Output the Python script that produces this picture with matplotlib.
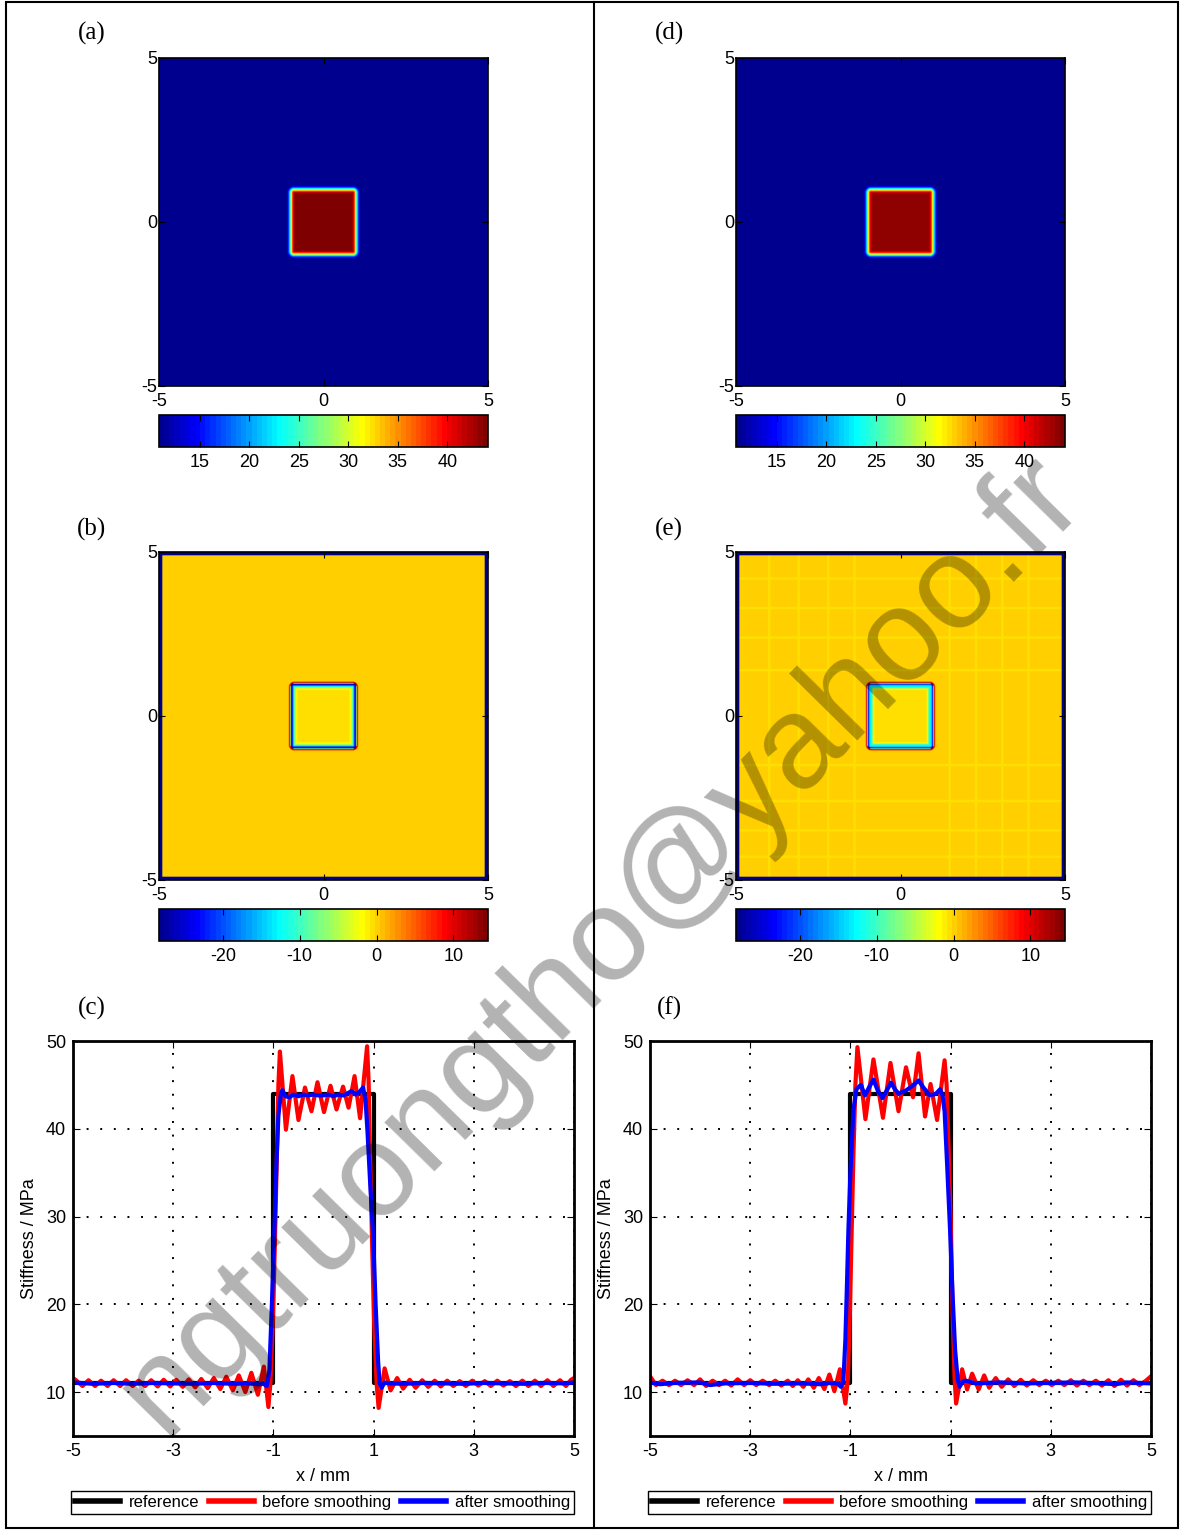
import numpy as np
import matplotlib
matplotlib.use('Agg')
import matplotlib.pyplot as plt
from matplotlib.colors import ListedColormap
from matplotlib.lines import Line2D
from matplotlib.patches import Rectangle

plt.rcParams['font.family'] = ['Liberation Sans', 'DejaVu Sans']
plt.rcParams['axes.unicode_minus'] = False

W, H = 1180, 1530

# ---- line profiles through y = 0, (x / mm, stiffness / MPa) ----
ref_x = [-5, -1, -1, 1, 1, 5]
ref_y = [11, 11, 44, 44, 11, 11]

c_red = [(-5.00, 11.6), (-4.94, 11.35), (-4.81, 10.7), (-4.69, 11.35), (-4.56, 10.7), (-4.44, 11.3),
         (-4.31, 10.7), (-4.19, 11.35), (-4.06, 10.7), (-3.94, 11.35), (-3.81, 10.7), (-3.69, 11.3),
         (-3.56, 10.7), (-3.44, 11.35), (-3.31, 10.65), (-3.19, 11.4), (-3.06, 10.65), (-2.94, 11.4),
         (-2.81, 10.6), (-2.69, 11.45), (-2.56, 10.55), (-2.44, 11.5), (-2.31, 10.45), (-2.19, 11.6),
         (-2.06, 10.35), (-1.94, 11.75), (-1.81, 10.2), (-1.69, 11.9), (-1.56, 10.0), (-1.44, 12.2),
         (-1.31, 9.7), (-1.19, 12.9), (-1.10, 8.3),
         (-1.06, 11.0), (-1.01, 18.0), (-0.97, 27.0), (-0.93, 37.0), (-0.90, 45.0), (-0.87, 48.8),
         (-0.75, 39.9), (-0.62, 46.0), (-0.50, 41.0), (-0.37, 44.7), (-0.24, 42.0), (-0.12, 45.3),
         (0.01, 41.9), (0.14, 44.9), (0.26, 42.2), (0.39, 44.8), (0.50, 42.4), (0.62, 46.0),
         (0.73, 41.2), (0.87, 49.4),
         (0.90, 45.5), (0.93, 37.0), (0.97, 27.0), (1.01, 18.0), (1.06, 11.0), (1.10, 8.2),
         (1.22, 12.7), (1.34, 10.2), (1.47, 11.6), (1.59, 10.4), (1.72, 11.4), (1.84, 10.5),
         (1.97, 11.35), (2.09, 10.6), (2.22, 11.3), (2.34, 10.65), (2.47, 11.3), (2.59, 10.7),
         (2.72, 11.25), (2.84, 10.7), (2.97, 11.3), (3.09, 10.75), (3.22, 11.25), (3.34, 10.7),
         (3.47, 11.3), (3.59, 10.75), (3.72, 11.25), (3.84, 10.7), (3.97, 11.3), (4.09, 10.7),
         (4.22, 11.3), (4.34, 10.7), (4.47, 11.35), (4.59, 10.7), (4.72, 11.35), (4.84, 10.7),
         (4.94, 11.4), (5.00, 11.6)]

c_blue = [(-5.00, 11.1), (-4.60, 10.95), (-4.20, 11.05), (-3.80, 10.95), (-3.40, 11.05), (-3.00, 11.0),
          (-2.60, 10.95), (-2.20, 11.05), (-1.80, 10.95), (-1.50, 11.0), (-1.30, 10.9), (-1.20, 10.95),
          (-1.13, 10.7), (-1.08, 12.5), (-1.03, 20.0), (-0.98, 28.5), (-0.94, 36.0), (-0.90, 41.5),
          (-0.85, 44.0), (-0.82, 44.4), (-0.76, 43.7), (-0.68, 43.6), (-0.60, 43.9), (-0.50, 43.7),
          (-0.40, 43.9), (-0.30, 43.8), (-0.20, 43.9), (-0.10, 43.8), (0.00, 43.8), (0.10, 43.9),
          (0.20, 43.7), (0.30, 43.9), (0.40, 43.8), (0.50, 44.1), (0.56, 44.3), (0.64, 43.9),
          (0.72, 44.2), (0.79, 44.7), (0.84, 43.2), (0.88, 39.5), (0.93, 34.0), (0.99, 28.0),
          (1.04, 20.0), (1.09, 13.5), (1.12, 11.0), (1.16, 10.5), (1.22, 11.1), (1.30, 11.0),
          (1.60, 10.95), (2.00, 11.05), (2.40, 11.0), (2.80, 10.95), (3.20, 11.05), (3.60, 11.0),
          (4.00, 10.95), (4.40, 11.05), (4.80, 11.0), (5.00, 11.1)]

f_red = [(-5.00, 11.8), (-4.88, 10.8), (-4.75, 11.3), (-4.62, 10.8), (-4.50, 11.3), (-4.38, 10.8),
         (-4.25, 11.35), (-4.12, 10.8), (-4.00, 11.45), (-3.88, 10.7), (-3.75, 11.3), (-3.62, 10.8),
         (-3.50, 11.3), (-3.38, 10.75), (-3.25, 11.45), (-3.12, 10.8), (-3.00, 11.35), (-2.88, 10.8),
         (-2.75, 11.3), (-2.62, 10.8), (-2.50, 11.3), (-2.38, 10.75), (-2.25, 11.3), (-2.15, 10.7),
         (-2.05, 11.35), (-1.94, 10.6), (-1.84, 11.45), (-1.73, 10.5), (-1.63, 11.6), (-1.52, 10.35),
         (-1.42, 12.0), (-1.32, 10.1), (-1.21, 12.6), (-1.10, 8.7),
         (-1.05, 11.5), (-1.01, 19.0), (-0.98, 27.0), (-0.94, 37.0), (-0.90, 45.0), (-0.86, 49.3),
         (-0.70, 41.1), (-0.54, 47.9), (-0.35, 41.25), (-0.20, 47.5), (-0.04, 42.0), (0.11, 47.0),
         (0.25, 43.6), (0.36, 48.6), (0.49, 41.4), (0.60, 45.1), (0.73, 41.0), (0.88, 47.8),
         (0.92, 45.0), (0.96, 38.0), (1.00, 30.0), (1.04, 19.0), (1.08, 11.5), (1.11, 8.7),
         (1.23, 12.6), (1.33, 10.3), (1.43, 12.1), (1.56, 10.3), (1.67, 11.9), (1.77, 10.5),
         (1.90, 11.6), (2.02, 10.6), (2.15, 11.45), (2.27, 10.7), (2.40, 11.4), (2.52, 10.75),
         (2.65, 11.35), (2.77, 10.8), (2.90, 11.3), (3.02, 10.8), (3.15, 11.3), (3.27, 10.8),
         (3.40, 11.35), (3.52, 10.75), (3.65, 11.3), (3.77, 10.8), (3.90, 11.3), (4.02, 10.75),
         (4.15, 11.35), (4.27, 10.7), (4.40, 11.4), (4.52, 10.75), (4.65, 11.35), (4.77, 10.8),
         (4.90, 11.3), (5.00, 11.8)]

f_blue = [(-5.00, 11.1), (-4.80, 10.9), (-4.50, 11.05), (-4.00, 11.1), (-3.80, 10.8), (-3.50, 11.0),
          (-3.00, 11.05), (-2.50, 10.95), (-2.00, 11.0), (-1.60, 10.9), (-1.40, 11.05), (-1.25, 10.95),
          (-1.19, 10.6), (-1.14, 11.3), (-1.10, 16.0), (-1.07, 22.0), (-1.04, 28.4), (-1.00, 35.0),
          (-0.94, 42.1), (-0.88, 44.5), (-0.79, 45.0), (-0.71, 43.8), (-0.62, 44.8), (-0.54, 45.6),
          (-0.45, 44.3), (-0.36, 43.5), (-0.27, 44.4), (-0.19, 45.25), (-0.11, 44.5), (-0.04, 44.0),
          (0.04, 44.2), (0.12, 44.4), (0.24, 44.9), (0.36, 45.5), (0.47, 44.6), (0.58, 43.85),
          (0.66, 43.9), (0.71, 44.0), (0.79, 44.5), (0.84, 43.8), (0.88, 42.0), (0.93, 36.0),
          (0.99, 28.4), (1.04, 21.0), (1.09, 14.8), (1.14, 11.5), (1.18, 10.6), (1.24, 11.2),
          (1.30, 11.3), (1.50, 11.0), (2.00, 11.1), (2.50, 11.0), (3.00, 11.05), (3.50, 11.1),
          (4.00, 11.0), (4.30, 10.9), (4.50, 11.1), (5.00, 11.0)]

# ---- 2D maps: values across the inclusion edge vs. distance from the edge (mm) ----
edge_d = [-0.14, -0.09, -0.05, 0.00, 0.05, 0.09, 0.13]
stiff_a = [44.0, 42.0, 36.0, 27.0, 19.0, 13.5, 11.0]
stiff_d = [43.2, 41.5, 36.0, 27.0, 19.0, 13.5, 11.0]

err_d = [-0.22, -0.17, -0.13, -0.09, -0.06, -0.03, -0.005, 0.005, 0.03, 0.06]
err_b = [-0.8, -2.0, -6.0, -13.0, -20.0, -27.0, -28.0, 14.0, 11.0, 0.4]
err_e = [-0.6, -2.5, -11.0, -13.0, -14.0, -22.0, -28.0, 14.0, 11.0, 0.4]
err_frame = -28.3

# faint lighter streaks seen in the error map (e)
e_streak_x = [-4.0, -3.1, -2.2, -1.4, 1.5, 2.3, 3.1, 3.9]
e_streak_y = [-4.3, -3.5, -2.6, -1.5, 1.4, 2.4, 3.3, 4.2]
e_streak_v = -0.4

stiff_lim = (10.9, 44.1)
err_lim = (-28.3, 14.5)
stiff_ticks = [15, 20, 25, 30, 35, 40]
err_ticks = [-20, -10, 0, 10]


def matlab_jet(m=64):
    n = int(np.ceil(m / 4))
    u = np.concatenate([np.arange(1, n + 1) / n, np.ones(n - 1), np.arange(n, 0, -1) / n])
    g = int(np.ceil(n / 2)) - (1 if m % 4 == 1 else 0) + np.arange(1, len(u) + 1)
    r = g + n
    b = g - n
    g = g[g <= m]
    r = r[r <= m]
    b = b[b >= 1]
    J = np.zeros((m, 3))
    J[r - 1, 0] = u[:len(r)]
    J[g - 1, 1] = u[:len(g)]
    J[b - 1, 2] = u[len(u) - len(b):]
    return ListedColormap(J)


jet = matlab_jet(64)

grid = np.linspace(-5, 5, 401)
X, Y = np.meshgrid(grid, grid)
r = 0.1
qx = np.abs(X) - (1 - r)
qy = np.abs(Y) - (1 - r)
dist = np.hypot(np.maximum(qx, 0), np.maximum(qy, 0)) + np.minimum(np.maximum(qx, qy), 0) - r
frame = (np.abs(X) > 4.9) | (np.abs(Y) > 4.9)

map_a = np.interp(dist, edge_d, stiff_a)
map_d = np.interp(dist, edge_d, stiff_d)
map_b = np.interp(dist, err_d, err_b)
map_b[frame] = err_frame
map_e = np.interp(dist, err_d, err_e)
for sx in e_streak_x:
    map_e[(np.abs(X - sx) < 0.04) & (dist > 0.08)] = e_streak_v
for sy in e_streak_y:
    map_e[(np.abs(Y - sy) < 0.04) & (dist > 0.08)] = e_streak_v
map_e[frame] = err_frame

fig = plt.figure(figsize=(W / 100, H / 100), dpi=100)


def px_axes(left, top, right, bottom):
    return fig.add_axes([left / W, 1 - bottom / H, (right - left) / W, (bottom - top) / H])


def draw_map(left, top, field, lim, ticks):
    ax = px_axes(left, top, left + 329, top + 328)
    im = ax.imshow(field, extent=[-5, 5, -5, 5], origin='lower', cmap=jet,
                   vmin=lim[0], vmax=lim[1], interpolation='bilinear', aspect='auto')
    ax.set_xticks([-5, 0, 5])
    ax.set_yticks([-5, 0, 5])
    ax.tick_params(direction='in', length=4, labelsize=13, top=True, right=True)
    ax.tick_params(axis='x', pad=5)
    ax.tick_params(axis='y', pad=1)
    for s in ax.spines.values():
        s.set_linewidth(1.2)
    cax = px_axes(left, top + 357, left + 329, top + 389)
    cb = fig.colorbar(im, cax=cax, orientation='horizontal', ticks=ticks)
    cb.outline.set_linewidth(1.2)
    cax.tick_params(direction='in', length=4, labelsize=13, pad=5, top=True, bottom=True)
    return ax


def draw_profile(left, red, blue):
    ax = px_axes(left, 1041, left + 501, 1436)
    rx, ry = np.array(red).T
    bx, by = np.array(blue).T
    ax.plot(ref_x, ref_y, color='k', lw=3, label='reference')
    ax.plot(rx, ry, color='r', lw=3, label='before smoothing')
    ax.plot(bx, by, color='b', lw=3, label='after smoothing')
    ax.set_xlim(-5, 5)
    ax.set_ylim(5, 50)
    ax.set_xticks([-5, -3, -1, 1, 3, 5])
    ax.set_yticks([10, 20, 30, 40, 50])
    ax.grid(True, color='k', linestyle=(0, (1, 6)), lw=1.4)
    ax.tick_params(direction='in', length=5, labelsize=13, pad=5, top=True, right=True)
    for s in ax.spines.values():
        s.set_linewidth(2)
    ax.set_xlabel('x / mm', fontsize=13, labelpad=6)
    ax.set_ylabel('Stiffness / MPa', fontsize=13, labelpad=6)
    leg = ax.legend(loc='lower left', bbox_to_anchor=(-0.004, -0.198, 1.004, 0.0608),
                    mode='expand', ncol=3, fancybox=False, edgecolor='k', framealpha=1,
                    fontsize=12, handlelength=2.7, borderpad=0.25, handletextpad=0.5,
                    columnspacing=1.2, borderaxespad=0)
    leg.get_frame().set_linewidth(1.0)
    for h in leg.get_lines():
        h.set_linewidth(4)
    return ax


draw_map(159, 58, map_a, stiff_lim, stiff_ticks)
draw_map(159, 552, map_b, err_lim, err_ticks)
draw_map(736, 58, map_d, stiff_lim, stiff_ticks)
draw_map(736, 552, map_e, err_lim, err_ticks)
draw_profile(73, c_red, c_blue)
draw_profile(650, f_red, f_blue)

panel_pos = {'(a)': (92, 33), '(b)': (92, 529), '(c)': (92, 1008),
             '(d)': (670, 33), '(e)': (669, 529), '(f)': (669, 1008)}
for lab, (px, py) in panel_pos.items():
    fig.text(px / W, 1 - py / H, lab, family='Liberation Serif', fontsize=18,
             ha='center', va='center')

# page border and column separator
fig.add_artist(Rectangle((6 / W, 2 / H), (1178 - 6) / W, (1528 - 2) / H,
                         transform=fig.transFigure, fill=False, lw=1.5, ec='k'))
fig.add_artist(Line2D([594 / W, 594 / W], [2 / H, 1 - 2 / H], transform=fig.transFigure,
                      color='k', lw=1.5))

# watermark
fig.text(600 / W, 1 - 945 / H, 'ngtruongtho@yahoo.fr', rotation=45.5, fontsize=95,
         color='k', alpha=0.3, ha='center', va='center', rotation_mode='anchor', zorder=20)

fig.savefig('out.png', dpi=100)
